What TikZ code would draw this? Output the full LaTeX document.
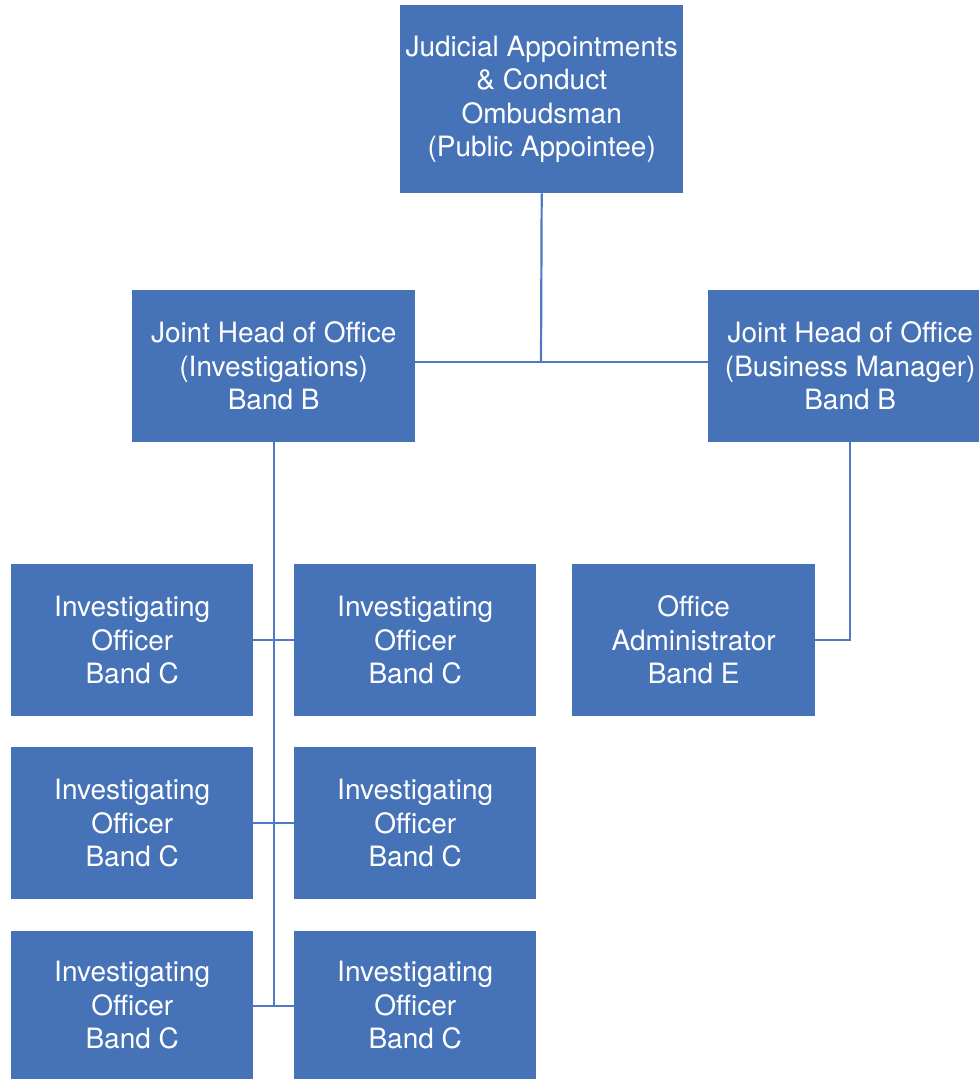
\documentclass[tikz,border=0pt]{standalone}
\usepackage{fontspec}
\setmainfont{TeX Gyre Heros}
\definecolor{boxblue}{RGB}{70,114,184}
\definecolor{lineblue}{RGB}{78,122,196}
\begin{document}
\begin{tikzpicture}[x=1pt,y=-1pt,
  orgbox/.style={fill=boxblue,draw=none,text=white,align=center,anchor=north west,
    inner sep=0pt,font=\fontsize{28}{33.5}\selectfont},
  link/.style={draw=lineblue,line width=2.2pt}]
\useasboundingbox (0,0) rectangle (979,1079);
\node[orgbox,minimum width=283pt,minimum height=188pt] (top) at (400,5)
  {Judicial Appointments\\\& Conduct\\Ombudsman\\(Public Appointee)};
\node[orgbox,minimum width=283pt,minimum height=152pt] (jhi) at (132,290)
  {Joint Head of Office\\(Investigations)\\Band B};
\node[orgbox,minimum width=284pt,minimum height=152pt] (jhb) at (708,290)
  {Joint Head of Office\\(Business Manager)\\Band B};
\node[orgbox,minimum width=242pt,minimum height=152pt] (l1) at (11,564)
  {Investigating\\Officer\\Band C};
\node[orgbox,minimum width=242pt,minimum height=152pt] (r1) at (294,564)
  {Investigating\\Officer\\Band C};
\node[orgbox,minimum width=242pt,minimum height=152pt] (l2) at (11,747)
  {Investigating\\Officer\\Band C};
\node[orgbox,minimum width=242pt,minimum height=152pt] (r2) at (294,747)
  {Investigating\\Officer\\Band C};
\node[orgbox,minimum width=242pt,minimum height=148pt] (l3) at (11,931)
  {Investigating\\Officer\\Band C};
\node[orgbox,minimum width=242pt,minimum height=148pt] (r3) at (294,931)
  {Investigating\\Officer\\Band C};
\node[orgbox,minimum width=243pt,minimum height=152pt] (oa) at (572,564)
  {Office\\Administrator\\Band E};
\coordinate (mid) at (541,362);
\coordinate (spineEnd) at (274,1006);
\coordinate (oaCorner) at (850,640);
\draw[link] (top.south) -- (mid);
\draw[link] (jhi.east |- mid) -- (jhb.west |- mid);
\draw[link] (jhi.south -| spineEnd) -- (spineEnd);
\draw[link] (l1.east) -- (r1.west);
\draw[link] (l2.east) -- (r2.west);
\draw[link] (l3.east |- spineEnd) -- (r3.west |- spineEnd);
\draw[link] (jhb.south -| oaCorner) -- (oaCorner) -- (oa.east |- oaCorner);
\end{tikzpicture}
\end{document}
